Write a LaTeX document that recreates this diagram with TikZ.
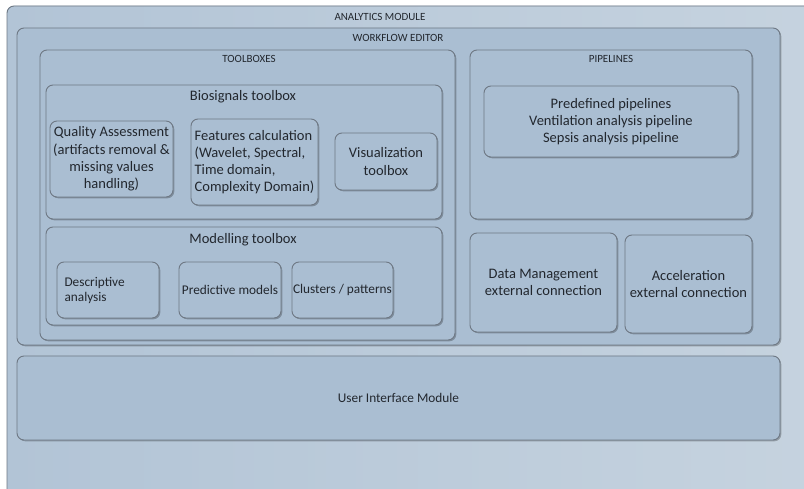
\documentclass[tikz,border=0pt]{standalone}
\usepackage{fontspec}
\setmainfont{Carlito}
\usetikzlibrary{shadows}
\definecolor{edge}{HTML}{6E7884}
\definecolor{boxfill}{HTML}{AABED2}
\definecolor{frameL}{HTML}{B2C4D6}
\definecolor{frameR}{HTML}{C6D3DF}
\definecolor{txt}{HTML}{22272E}
\tikzset{
  panel/.style={draw=edge, line width=0.9pt, rounded corners=7pt, fill=boxfill,
    anchor=north west, inner sep=0pt, outer sep=0pt,
    drop shadow={shadow xshift=1.3pt, shadow yshift=-1.3pt, opacity=0.25, fill=black}},
  caps/.style={font=\fontsize{11}{13}\selectfont, text=txt},
  big/.style={font=\fontsize{14.5}{17.2}\selectfont, text=txt, align=center},
  mid/.style={font=\fontsize{13.3}{15}\selectfont, text=txt, align=center},
}
\begin{document}
\begin{tikzpicture}[x=1pt,y=-1pt]
\useasboundingbox (0,0) rectangle (804,489);
\fill[white] (0,0) rectangle (804,489);
% outer frame
\node[panel, left color=frameL, right color=frameR, minimum width=820pt, minimum height=500pt, drop shadow={opacity=0}] (analytics) at (7,6) {};
\node[caps] (analyticsT) at (380,17) {ANALYTICS MODULE};
% workflow editor
\node[panel, minimum width=763pt, minimum height=317pt] (workflow) at (17,28) {};
\node[caps] (workflowT) at (398,38) {WORKFLOW EDITOR};
% toolboxes
\node[panel, minimum width=415pt, minimum height=290pt] (toolboxes) at (40,50) {};
\node[caps] (toolboxesT) at (249,59) {TOOLBOXES};
% biosignals
\node[panel, minimum width=396pt, minimum height=134pt] (bio) at (46,85) {};
\node[big] (bioT) at (243,97) {Biosignals toolbox};
\node[panel, big, minimum width=123pt, minimum height=76pt] (quality) at (50,121)
  {Quality Assessment\\(artifacts removal \&\\missing values\\handling)};
\node[panel, minimum width=127pt, minimum height=86pt] (features) at (191,119) {};
\node[big, align=left] (featuresT) at (features.center) {Features calculation\\(Wavelet, Spectral,\\Time domain,\\Complexity Domain)};
\node[panel, big, minimum width=102pt, minimum height=57pt] (visual) at (335,133)
  {Visualization\\toolbox};
% modelling
\node[panel, minimum width=396pt, minimum height=98pt] (model) at (46,227) {};
\node[big] (modelT) at (243,240) {Modelling toolbox};
\node[panel, minimum width=102pt, minimum height=56pt] (desc) at (57,262) {};
\node[mid, align=left, anchor=west] (descT) at ([xshift=4pt]desc.west) {Descriptive\\analysis};
\node[panel, mid, minimum width=102pt, minimum height=56pt] (pred) at (179,262) {Predictive models};
\node[panel, mid, minimum width=101pt, minimum height=56pt] (clus) at (292,262) {Clusters / patterns};
% pipelines
\node[panel, minimum width=282pt, minimum height=169pt] (pipes) at (470,50) {};
\node[caps] (pipesT) at (611,59) {PIPELINES};
\node[panel, big, minimum width=254pt, minimum height=71pt] (predef) at (484,86)
  {Predefined pipelines\\Ventilation analysis pipeline\\Sepsis analysis pipeline};
\node[panel, big, minimum width=147pt, minimum height=99pt] (datam) at (470,233)
  {Data Management\\external connection};
\node[panel, big, minimum width=127pt, minimum height=98pt] (accel) at (625,235)
  {Acceleration\\external connection};
% user interface
\node[panel, minimum width=763pt, minimum height=84pt, font=\fontsize{13.3}{16}\selectfont, text=txt] (ui) at (17,356) {User Interface Module};
\end{tikzpicture}
\end{document}
